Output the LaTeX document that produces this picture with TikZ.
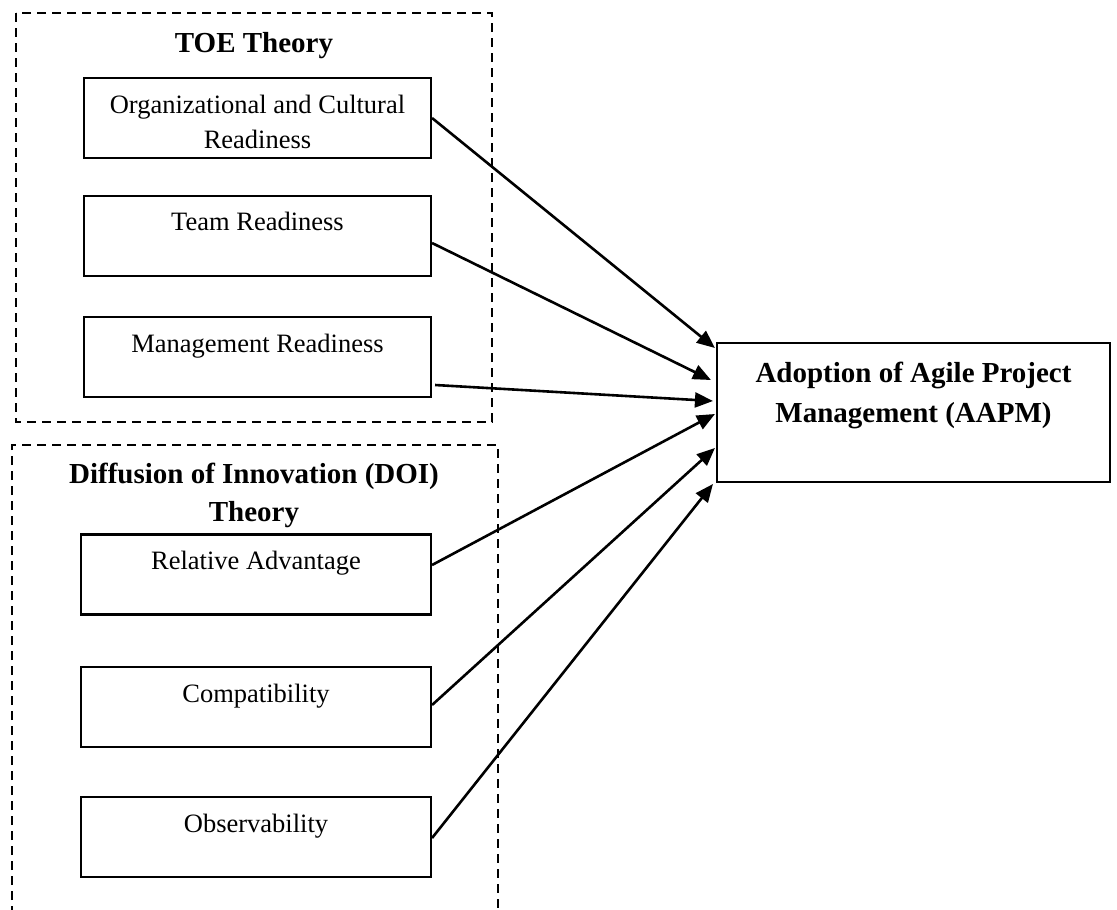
\documentclass[tikz,border=0pt]{standalone}
\usepackage{fontspec}
\setmainfont{Liberation Serif}
\usetikzlibrary{arrows.meta}
\begin{document}
\begin{tikzpicture}[x=1pt,y=-1pt,
  factorbox/.style={draw, line width=2.1pt, minimum width=347pt, minimum height=80pt, inner sep=0pt},
  factortext/.style={anchor=base, inner sep=0pt, align=center, font=\fontsize{26.5}{35}\selectfont},
  heading/.style={anchor=base, inner sep=0pt, align=center, font=\fontsize{29}{38}\selectfont\bfseries},
  group/.style={draw, line width=2.1pt, dash pattern=on 9pt off 6pt},
  link/.style={line width=2.6pt, -{Triangle[length=18pt,width=15pt]}}]
\useasboundingbox (0,0) rectangle (1117,910);

% theory groups
\draw[group] (16,13) rectangle (492,422);
\draw[group] (12,915) -- (12,445) -- (498,445) -- (498,915);
\node[heading] (toeT) at (254,52) {TOE Theory};
% multi-line nodes sit on the baseline of their last line
\node[heading] (doiT) at (254,521) {Diffusion of Innovation (DOI)\\Theory};

% TOE factors
\node[factorbox] (org) at (257.5,118) {};
\node[factortext] (orgT) at (257.5,148) {Organizational and Cultural\\Readiness};
\node[factorbox] (team) at (257.5,236) {};
\node[factortext] (teamT) at (257.5,230) {Team Readiness};
\node[factorbox] (mgmt) at (257.5,357) {};
\node[factortext] (mgmtT) at (257.5,352) {Management Readiness};

% DOI factors
\node[factorbox, minimum width=350pt] (rel) at (256,574.5) {};
\node[factortext] (relT) at (256,569) {Relative Advantage};
\node[factorbox, minimum width=350pt] (comp) at (256,707) {};
\node[factortext] (compT) at (256,702) {Compatibility};
\node[factorbox, minimum width=350pt] (obs) at (256,837) {};
\node[factortext] (obsT) at (256,832) {Observability};

% outcome
\node[factorbox, minimum width=393pt, minimum height=139pt] (aapm) at (913.5,412.5) {};
\node[heading, font=\fontsize{29}{40}\selectfont\bfseries] (aapmT) at (913.5,422) {Adoption of Agile Project\\Management (AAPM)};

% relations
\draw[link] (org.east) -- ([xshift=-1pt,yshift=64.5pt]aapm.west);
\draw[link] ([yshift=-7pt]team.east) -- ([xshift=-5pt,yshift=32.5pt]aapm.west);
\draw[link] ([xshift=3pt,yshift=-28pt]mgmt.east) -- ([xshift=-3pt,yshift=11.5pt]aapm.west);
\draw[link] ([yshift=9.5pt]rel.east) -- ([xshift=-1pt,yshift=-1.5pt]aapm.west);
\draw[link] ([yshift=2pt]comp.east) -- ([xshift=-1pt,yshift=-35.5pt]aapm.west);
\draw[link] ([yshift=-1pt]obs.east) -- ([xshift=-3pt,yshift=-71.5pt]aapm.west);
\end{tikzpicture}
\end{document}
